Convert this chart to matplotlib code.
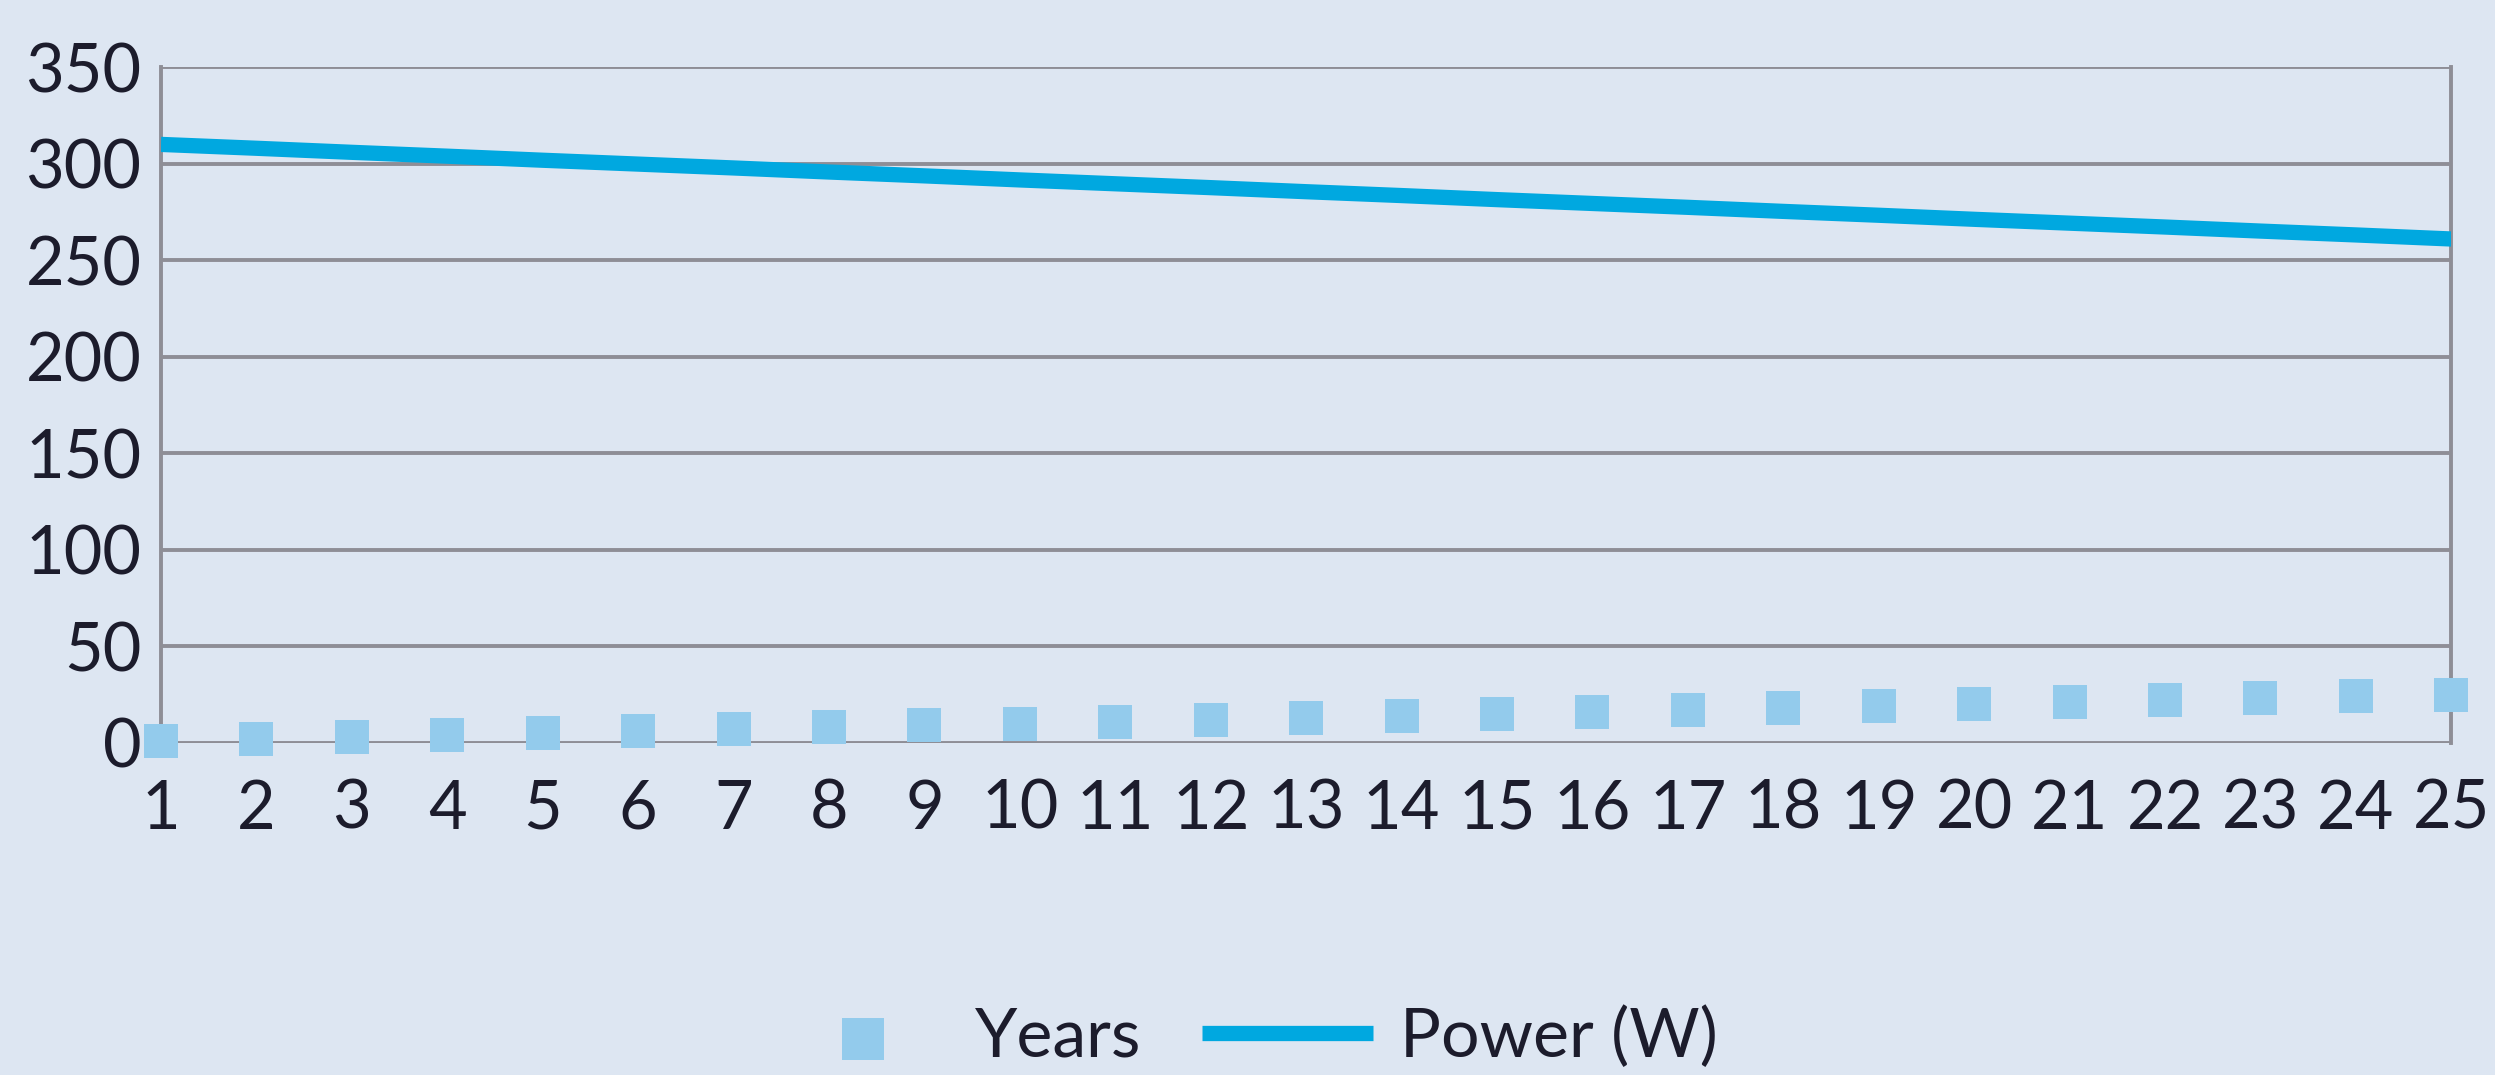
import matplotlib.pyplot as plt

# dados
anos = list(range(1, 26))
years_vals = [1, 2, 3, 4, 5, 6, 7, 8, 9, 10, 11, 12, 13, 14, 15, 16, 17, 18, 19, 20, 21, 22, 23, 24, 25]
power_vals = [310.0, 308.0, 305.9, 303.9, 301.8, 299.8, 297.8, 295.7, 293.7, 291.6,
              289.6, 287.6, 285.5, 283.5, 281.4, 279.4, 277.4, 275.3, 273.3, 271.2,
              269.2, 267.2, 265.1, 263.1, 261.0]
yticks = [0, 50, 100, 150, 200, 250, 300, 350]

plt.rcParams['font.family'] = ['Lato', 'DejaVu Sans']
bg = '#dde6f2'
grid_c = '#8e8e96'
txt_c = '#1c1c2c'

fig = plt.figure(figsize=(24.95, 10.75), dpi=100, facecolor=bg)
ax = fig.add_axes([0.0645, 0.309, 0.918, 0.6285], facecolor=bg)

for y in yticks:
    ax.axhline(y, color=grid_c, lw=2.8, zorder=1)

ax.plot(anos, power_vals, color='#00a8e0', lw=11, solid_capstyle='butt',
        label='Power (W)', zorder=3)
ax.scatter(anos, years_vals, marker='s', s=620, color='#93cbec',
           linewidth=0, label='Years', zorder=4, clip_on=False)

ax.set_xlim(1, 25)
ax.set_ylim(0, 350)
ax.set_xticks(anos)
ax.set_yticks(yticks)
ax.tick_params(axis='both', length=0, labelsize=48, colors=txt_c)
ax.tick_params(axis='y', pad=14)
ax.tick_params(axis='x', pad=26)

for s in ['top', 'bottom']:
    ax.spines[s].set_visible(False)
for s in ['left', 'right']:
    ax.spines[s].set_color(grid_c)
    ax.spines[s].set_linewidth(2.8)

handles, labels = ax.get_legend_handles_labels()
leg = fig.legend(handles[::-1], labels[::-1], loc='center', bbox_to_anchor=(0.5, 0.035),
                 ncol=2, frameon=False, fontsize=49, handlelength=2.5,
                 columnspacing=0.9, handletextpad=0.4, markerscale=1.2)
for t in leg.get_texts():
    t.set_color(txt_c)

fig.savefig('out.png', dpi=100, facecolor=bg)
